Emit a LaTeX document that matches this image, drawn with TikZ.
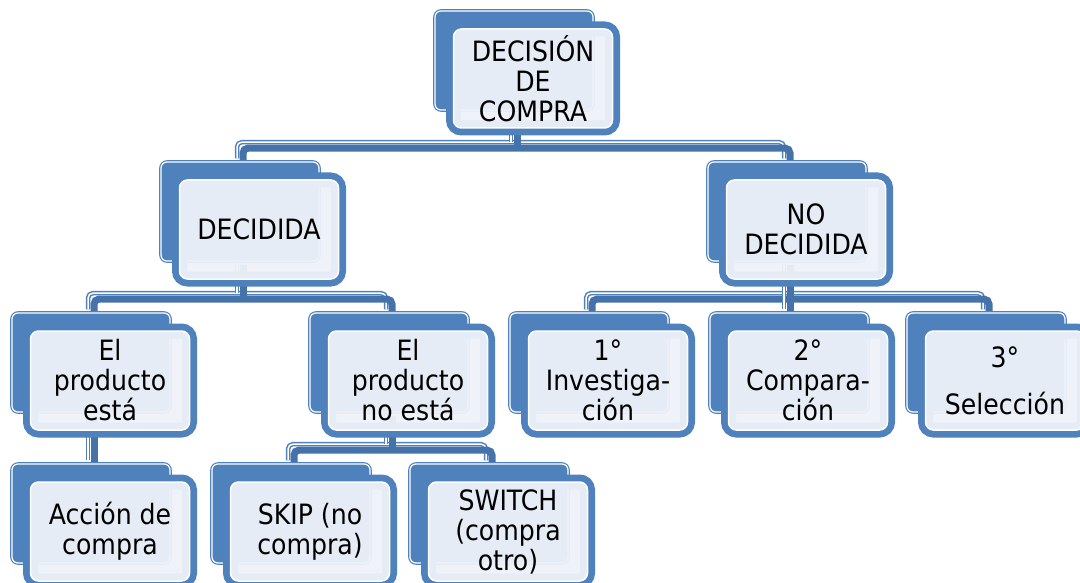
\documentclass[tikz,border=0pt]{standalone}
\usepackage{fontspec}
\setmainfont{DejaVu Sans}[FakeStretch=0.9]
\usetikzlibrary{positioning,calc,backgrounds}

\definecolor{smblue}{HTML}{4F81BD}
\definecolor{smdark}{HTML}{4672AA}
\definecolor{smfill}{HTML}{EEF2F9}

\begin{document}
\begin{tikzpicture}[x=1pt,y=-1pt,
    backbox/.style={rectangle, rounded corners=6pt, minimum width=158pt, minimum height=99pt,
        draw=smblue, double=white, line width=1.2pt, double distance=1.2pt, fill=smblue},
    frontbox/.style={rectangle, rounded corners=8pt, minimum width=159pt, minimum height=99pt,
        draw=white, line width=1.5pt, fill=smfill, fill opacity=0.95, text opacity=1,
        preaction={draw=smblue, fill=none, line width=15pt},
        align=center, font=\fontsize{28}{30}\selectfont},
    linkback/.style={draw=smblue, double=white, line width=1.5pt, double distance=1.5pt,
        rounded corners=5pt, transform canvas={shift={(-3,-3)}}},
    linkfront/.style={draw=smdark, line width=7pt, rounded corners=5pt,
        transform canvas={shift={(3,3)}}}]

    \useasboundingbox (0,0) rectangle (1080,583);
    \clip (0,0) rectangle (1080,583);

    % Back copies of the boxes
    \node[backbox] (topb) at (514,60.5) {};
    \node[backbox] (decb) at (240,211.5) {};
    \node[backbox] (nodecb) at (787,211.5) {};
    \node[backbox] (estab) at (91,362.5) {};
    \node[backbox] (noestab) at (389,362.5) {};
    \node[backbox] (invb) at (589,362.5) {};
    \node[backbox] (compb) at (789,362.5) {};
    \node[backbox] (selb) at (986,362.5) {};
    \node[backbox] (accionb) at (91,513.5) {};
    \node[backbox] (skipb) at (291,513.5) {};
    \node[backbox] (switchb) at (489,513.5) {};

    % Front boxes with the texts
    \node[frontbox] (top) at ($(topb)+(19,18)$) {DECISIÓN\\DE\\COMPRA};
    \node[frontbox] (dec) at ($(decb)+(19,18)$) {DECIDIDA};
    \node[frontbox] (nodec) at ($(nodecb)+(19,18)$) {NO\\DECIDIDA};
    \node[frontbox] (esta) at ($(estab)+(19,18)$) {El\\producto\\está};
    \node[frontbox] (noesta) at ($(noestab)+(19,18)$) {El\\producto\\no está};
    \node[frontbox] (inv) at ($(invb)+(19,18)$) {1°\\Investiga-\\ción};
    \node[frontbox] (comp) at ($(compb)+(19,18)$) {2°\\Compara-\\ción};
    \node[frontbox] (sel) at ($(selb)+(19,18)$) {3°\\[17pt]Selección};
    \node[frontbox] (accion) at ($(accionb)+(19,18)$) {Acción de\\compra};
    \node[frontbox] (skip) at ($(skipb)+(19,18)$) {SKIP (no\\compra)};
    \node[frontbox] (switch) at ($(switchb)+(19,18)$) {SWITCH\\(compra\\otro)};

    % Junctions of the connectors
    \coordinate (j1) at ($(topb.south)+(0,34.5)$);
    \coordinate (j2) at ($(decb.south)+(0,34.5)$);
    \coordinate (j3) at ($(nodecb.south)+(0,34.5)$);
    \coordinate (j5) at ($(noestab.south)+(0,34.5)$);

    % Connectors behind the boxes
    \begin{scope}[on background layer]
        \draw[linkback] (decb.north) |- (j1) -| (nodecb.north);
        \draw[linkfront] (decb.north) |- (j1) -| (nodecb.north);
        \draw[linkback] (estab.north) |- (j2) -| (noestab.north);
        \draw[linkfront] (estab.north) |- (j2) -| (noestab.north);
        \draw[linkback] (invb.north) |- (j3) -| (selb.north);
        \draw[linkfront] (invb.north) |- (j3) -| (selb.north);
        \draw[linkback] (skipb.north) |- (j5) -| (switchb.north);
        \draw[linkfront] (skipb.north) |- (j5) -| (switchb.north);

        \draw[linkback] (topb.south) -- (j1);
        \draw[linkfront] (topb.south) -- (j1);
        \draw[linkback] (decb.south) -- (j2);
        \draw[linkfront] (decb.south) -- (j2);
        \draw[linkback] (nodecb.south) -- (nodecb.south |- compb.north);
        \draw[linkfront] (nodecb.south) -- (nodecb.south |- compb.north);
        \draw[linkback] (noestab.south) -- (j5);
        \draw[linkfront] (noestab.south) -- (j5);
        \draw[linkback] (estab.south) -- (accionb.north);
        \draw[linkfront] (estab.south) -- (accionb.north);
    \end{scope}
\end{tikzpicture}
\end{document}
